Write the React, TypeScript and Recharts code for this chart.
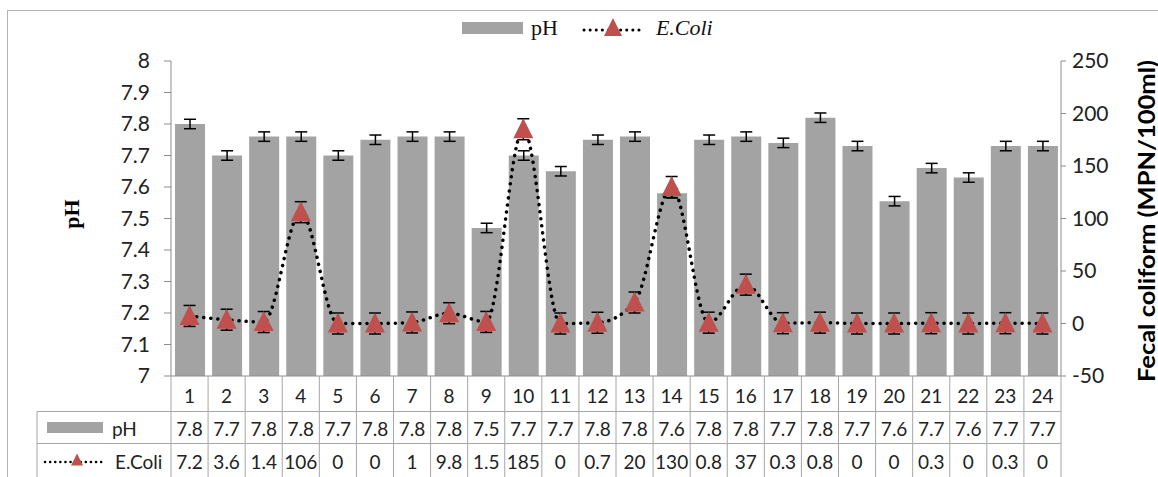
import React from 'react';
import { ComposedChart, Bar, Line, XAxis, YAxis, ErrorBar } from 'recharts';

const categories = ['1', '2', '3', '4', '5', '6', '7', '8', '9', '10', '11', '12', '13', '14', '15', '16', '17', '18', '19', '20', '21', '22', '23', '24'];
const phValues = [7.8, 7.7, 7.76, 7.76, 7.7, 7.75, 7.76, 7.76, 7.47, 7.7, 7.65, 7.75, 7.76, 7.58, 7.75, 7.76, 7.74, 7.82, 7.73, 7.555, 7.66, 7.63, 7.73, 7.73];
const phErrors = [0.015, 0.015, 0.015, 0.015, 0.015, 0.015, 0.015, 0.015, 0.015, 0.015, 0.015, 0.015, 0.015, 0.015, 0.015, 0.015, 0.015, 0.015, 0.015, 0.015, 0.015, 0.015, 0.015, 0.015];
const ecoliValues = [7.2, 3.6, 1.4, 106, 0, 0, 1, 9.8, 1.5, 185, 0, 0.7, 20, 130, 0.8, 37, 0.3, 0.8, 0, 0, 0.3, 0, 0.3, 0];
const ecoliErrors = [10, 10, 10, 10, 10, 10, 10, 10, 10, 10, 10, 10, 10, 10, 10, 10, 10, 10, 10, 10, 10, 10, 10, 10];
const phTicks = [7, 7.1, 7.2, 7.3, 7.4, 7.5, 7.6, 7.7, 7.8, 7.9, 8];
const ecoliTicks = [-50, 0, 50, 100, 150, 200, 250];

const data = categories.map((c, i) => ({
  name: c,
  ph: phValues[i],
  phErr: phErrors[i],
  ecoli: ecoliValues[i],
  ecoliErr: ecoliErrors[i],
}));

const W = 1158;
const H = 477;
const PLOT_LEFT = 171;
const PLOT_RIGHT = 1061;
const PLOT_TOP = 61;
const PLOT_BOTTOM = 376;
const COL_W = (PLOT_RIGHT - PLOT_LEFT) / categories.length;
const ROW1 = 411.5;
const ROW2 = 443.5;
const TABLE_LEFT = 37;

const BAR_COLOR = '#a3a3a3';
const RED = '#c0504d';
const GRID = '#a6a6a6';
const AXIS = '#8c8c8c';
const FONT = 'Lato, "Open Sans", sans-serif';
const SERIF = '"Liberation Serif", "DejaVu Serif", serif';

const tri = (cx: number, cy: number, s: number) =>
  `${cx},${cy - s * 1.1} ${cx - s},${cy + s * 0.9} ${cx + s},${cy + s * 0.9}`;

const TriangleDot = (props: any) => {
  const { cx, cy, index } = props;
  if (cx == null || cy == null) return <g key={`d-${index}`} />;
  return <polygon key={`d-${index}`} points={tri(cx, cy, 10)} fill={RED} />;
};

const TableTick = (props: any) => {
  const { x, payload } = props;
  const i = categories.indexOf(String(payload.value));
  const half = COL_W / 2;
  const left = x - half;
  const right = x + half;
  const txt = { fontFamily: FONT, fontSize: 19, fill: '#222' };
  return (
    <g>
      <line x1={left} y1={PLOT_BOTTOM} x2={left} y2={H} stroke={GRID} />
      {i === categories.length - 1 && <line x1={right} y1={PLOT_BOTTOM} x2={right} y2={H} stroke={GRID} />}
      <line x1={left} y1={ROW1} x2={right} y2={ROW1} stroke={GRID} />
      <line x1={left} y1={ROW2} x2={right} y2={ROW2} stroke={GRID} />
      <text x={x} y={395} textAnchor="middle" dominantBaseline="central" {...txt}>{payload.value}</text>
      <text x={x} y={428} textAnchor="middle" dominantBaseline="central" {...txt}>{phValues[i].toFixed(1)}</text>
      <text x={x} y={461} textAnchor="middle" dominantBaseline="central" {...txt}>{ecoliValues[i]}</text>
      {i === 0 && (
        <g>
          <line x1={TABLE_LEFT} y1={ROW1} x2={TABLE_LEFT} y2={H} stroke={GRID} />
          <line x1={TABLE_LEFT} y1={ROW1} x2={left} y2={ROW1} stroke={GRID} />
          <line x1={TABLE_LEFT} y1={ROW2} x2={left} y2={ROW2} stroke={GRID} />
          <rect x={47} y={422} width={56} height={11} fill={BAR_COLOR} />
          <text x={112} y={428} dominantBaseline="central" {...txt}>pH</text>
          <line x1={45} y1={462} x2={102} y2={462} stroke="#000" strokeWidth={2.5} strokeDasharray="0.1 5" strokeLinecap="round" />
          <polygon points={tri(77, 460, 6)} fill={RED} />
          <text x={115} y={461} dominantBaseline="central" {...txt}>E.Coli</text>
        </g>
      )}
    </g>
  );
};

const LeftTitle = (props: any) => (
  <text
    x={71}
    y={214}
    transform="rotate(-90 71 214)"
    textAnchor="middle"
    dominantBaseline="central"
    style={{ fontFamily: SERIF, fontSize: 22, fontWeight: 'bold', fill: '#000' }}
  >
    pH
  </text>
);

const RightTitle = (props: any) => (
  <text
    x={1146}
    y={221}
    transform="rotate(-90 1146 221)"
    textAnchor="middle"
    dominantBaseline="central"
    textLength={322}
    lengthAdjust="spacingAndGlyphs"
    style={{ fontFamily: FONT, fontSize: 22, fontWeight: 'bold', fill: '#000' }}
  >
    Fecal coliform (MPN/100ml)
  </text>
);

const LegendBox = () => (
  <div style={{ position: 'absolute', left: 462, top: 15, display: 'flex', alignItems: 'center', fontFamily: SERIF, fontSize: 22, color: '#111' }}>
    <div style={{ width: 61, height: 12, background: BAR_COLOR }} />
    <span style={{ marginLeft: 8 }}>pH</span>
    <svg width={62} height={24} style={{ marginLeft: 24 }}>
      <line x1={2} y1={14} x2={60} y2={14} stroke="#000" strokeWidth={3} strokeDasharray="0.1 6" strokeLinecap="round" />
      <polygon points={tri(31, 12, 9)} fill={RED} />
    </svg>
    <span style={{ marginLeft: 12, fontStyle: 'italic' }}>E.Coli</span>
  </div>
);

const App: React.FC = () => {
  return (
    <div style={{ position: 'absolute', left: 0, top: 0, width: W, height: H, background: '#fff', overflow: 'hidden' }}>
      <div style={{ position: 'absolute', left: 7, top: 10, width: 1200, height: 480, border: '1.5px solid #b4b4b4', boxSizing: 'border-box' }} />
      <ComposedChart
        width={W}
        height={H}
        data={data}
        margin={{ top: PLOT_TOP, right: 0, left: 71, bottom: 0 }}
        barCategoryGap={0}
      >
        <XAxis
          dataKey="name"
          interval={0}
          height={H - PLOT_BOTTOM}
          tickLine={false}
          tickSize={0}
          axisLine={{ stroke: AXIS }}
          tick={(p: any) => <TableTick {...p} />}
        />
        <YAxis
          yAxisId="left"
          orientation="left"
          width={PLOT_LEFT - 71}
          domain={[7, 8]}
          ticks={phTicks}
          allowDataOverflow
          tickSize={7}
          tickMargin={14}
          axisLine={{ stroke: AXIS }}
          tickLine={{ stroke: AXIS }}
          tick={{ fontFamily: FONT, fontSize: 21, fill: '#222' }}
          label={<LeftTitle />}
        />
        <YAxis
          yAxisId="right"
          orientation="right"
          width={W - PLOT_RIGHT}
          domain={[-50, 250]}
          ticks={ecoliTicks}
          tickSize={5}
          tickMargin={6}
          axisLine={{ stroke: AXIS }}
          tickLine={{ stroke: AXIS }}
          tick={{ fontFamily: FONT, fontSize: 21, fill: '#222' }}
          label={<RightTitle />}
        />
        <Bar yAxisId="left" dataKey="ph" fill={BAR_COLOR} barSize={30} isAnimationActive={false}>
          <ErrorBar dataKey="phErr" width={6} stroke="#000" strokeWidth={1.5} />
        </Bar>
        <Line
          yAxisId="right"
          dataKey="ecoli"
          stroke="#000"
          strokeWidth={3.5}
          strokeDasharray="0.1 7"
          strokeLinecap="round"
          type="monotone"
          dot={TriangleDot}
          activeDot={false}
          isAnimationActive={false}
        >
          <ErrorBar dataKey="ecoliErr" width={6} stroke="#000" strokeWidth={1.5} />
        </Line>
      </ComposedChart>
      <LegendBox />
    </div>
  );
};

export default App;
